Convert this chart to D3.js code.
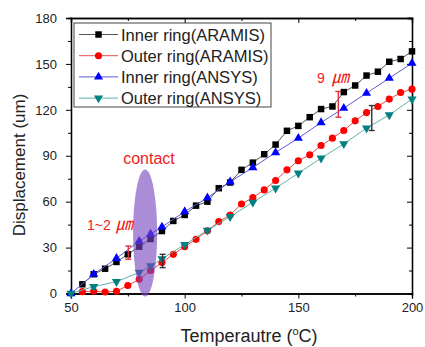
<!DOCTYPE html>
<html>
<head>
<meta charset="utf-8">
<script src="https://cdnjs.cloudflare.com/ajax/libs/d3/7.8.5/d3.min.js"></script>
<style>
  html, body { margin: 0; padding: 0; background: #fff; }
  svg { display: block; font-family: Arial, 'Liberation Sans', 'Noto Sans CJK KR', sans-serif; }
  .tick text { fill: #222; font-size: 13px; }
</style>
</head>
<body>
<script>
// temperatures (deg C)
const tempAramis = [55, 60, 65, 70, 75, 80, 85, 90, 95, 100, 105, 110, 115, 120, 125,
                    130, 135, 140, 145, 150, 155, 160, 165, 170, 175, 180, 185, 190, 195, 200];
const tempAnsys = [50, 60, 70, 80, 85, 90, 100, 110, 120, 130, 140, 150, 160, 170, 180, 190, 200];

// displacement (um)
const innerAramis = [6, 12.6, 16.2, 20.6, 25.6, 30.6, 35.6, 40.8, 47.4, 51.3, 57.4, 60, 68.8, 72.5, 80.8,
                     85.5, 91, 97.3, 106.3, 109.5, 115.2, 120.5, 122.2, 131.6, 135.9, 142.4, 144.9, 151.4, 153.2, 158.2];
const outerAramis = [1.2, 1.5, 1.0, 1.5, 5.2, 9.3, 15, 20.2, 25.6, 30.6, 35.4, 41, 47, 51.3, 58.5,
                     62.7, 67.7, 73.8, 80.8, 86.7, 90.6, 96.7, 101.5, 106.5, 112.8, 118.2, 122.2, 127, 131.3, 133.5];
const innerAnsys = [0, 12.6, 23, 34.2, 38.8, 43.5, 53.5, 62.5, 73, 82.3, 92.1, 101.5, 111.7, 121.1, 130.9, 140.7, 150.5];
const outerAnsys = [0, 4.5, 7.7, 13.8, 18, 22.6, 32, 41.3, 50.2, 59.6, 68.8, 78.6, 88.4, 97.8, 108, 116.7, 127];

const seriesNames = ['Inner ring(ARAMIS)', 'Outer ring(ARAMIS)', 'Inner ring(ANSYS)', 'Outer ring(ANSYS)'];

const xTicks = [50, 100, 150, 200],
      xMinor = [75, 125, 175],
      yTicks = [0, 30, 60, 90, 120, 150, 180],
      yMinor = [15, 45, 75, 105, 135, 165];

// error bars: [temperature, low, high]
const errBars = [[75.2, 22.4, 31], [90.3, 16.9, 25.6], [167.6, 115.2, 132], [182.3, 106.5, 122.8]];

const width = 425,
      height = 347,
      plot = { left: 71, right: 412, top: 18, bottom: 293.5 };

const x = d3.scaleLinear().domain([50, 200]).range([plot.left, plot.right]),
      y = d3.scaleLinear().domain([0, 180]).range([plot.bottom, plot.top]);

const series = [
  { name: seriesNames[0], t: tempAramis, v: innerAramis, marker: '#000', line: '#555', shape: d3.symbolSquare, size: 42, rot: 0 },
  { name: seriesNames[1], t: tempAramis, v: outerAramis, marker: '#ff0000', line: '#e84a4a', shape: d3.symbolCircle, size: 40, rot: 0 },
  { name: seriesNames[2], t: tempAnsys, v: innerAnsys, marker: '#0000ff', line: '#5a5ad6', shape: d3.symbolTriangle, size: 36, rot: 0 },
  { name: seriesNames[3], t: tempAnsys, v: outerAnsys, marker: '#008080', line: '#5fb3aa', shape: d3.symbolTriangle, size: 36, rot: 180 }
];

const svg = d3.select('body').append('svg')
              .attr('width', width)
              .attr('height', height);

// axes
svg.append('g')
   .attr('transform', 'translate(0,' + plot.bottom + ')')
   .call(d3.axisBottom(x).tickValues(xTicks).tickSize(5).tickPadding(4));
svg.append('g')
   .attr('transform', 'translate(0,' + plot.bottom + ')')
   .call(d3.axisBottom(x).tickValues(xMinor).tickSize(3).tickFormat(''));
svg.append('g')
   .attr('transform', 'translate(' + plot.left + ',0)')
   .call(d3.axisLeft(y).tickValues(yTicks).tickSize(5).tickPadding(9));
svg.append('g')
   .attr('transform', 'translate(' + plot.left + ',0)')
   .call(d3.axisLeft(y).tickValues(yMinor).tickSize(3).tickFormat(''));
svg.append('g')
   .attr('transform', 'translate(0,' + plot.top + ')')
   .call(d3.axisTop(x).tickValues(xTicks.slice(1, 3)).tickSize(-5).tickFormat(''));
svg.append('g')
   .attr('transform', 'translate(0,' + plot.top + ')')
   .call(d3.axisTop(x).tickValues(xMinor).tickSize(-3).tickFormat(''));
svg.append('g')
   .attr('transform', 'translate(' + plot.right + ',0)')
   .call(d3.axisRight(y).tickValues(yTicks.slice(1, 6)).tickSize(-5).tickFormat(''));
svg.append('g')
   .attr('transform', 'translate(' + plot.right + ',0)')
   .call(d3.axisRight(y).tickValues(yMinor).tickSize(-3).tickFormat(''));

svg.selectAll('.domain').attr('stroke', '#000').attr('stroke-width', 1.3);
svg.selectAll('.tick line').attr('stroke', '#000');

// axis titles
svg.append('text')
   .attr('x', 249)
   .attr('y', 342)
   .attr('text-anchor', 'middle')
   .style('font-size', '18px')
   .style('fill', '#222')
   .html('Temperautre (<tspan dy="-7" font-size="11px">o</tspan><tspan dy="7">C)</tspan>');

svg.append('text')
   .attr('transform', 'translate(25,' + 165 + ') rotate(-90)')
   .attr('text-anchor', 'middle')
   .style('font-size', '17px')
   .style('fill', '#222')
   .text('Displacement (um)');

// lines and markers
const line = d3.line()
               .x(function(d) { return x(d[0]) })
               .y(function(d) { return y(d[1]) });

series.forEach(function(s) {
  const pts = s.t.map(function(t, i) { return [t, s.v[i]] });
  svg.append('path')
     .datum(pts)
     .attr('fill', 'none')
     .attr('stroke', s.line)
     .attr('stroke-width', 1)
     .attr('d', line);
  svg.append('g')
     .selectAll('path')
     .data(pts)
     .enter()
     .append('path')
     .attr('transform', function(d) { return 'translate(' + x(d[0]) + ',' + y(d[1]) + ') rotate(' + s.rot + ')' })
     .attr('d', d3.symbol().type(s.shape).size(s.size))
     .attr('fill', s.marker);
});

// error bars
const errColors = ['#e0303a', '#333', '#e0303a', '#333'];
errBars.forEach(function(e, i) {
  const g = svg.append('g').attr('stroke', errColors[i]).attr('stroke-width', 1.4);
  g.append('line').attr('x1', x(e[0])).attr('x2', x(e[0])).attr('y1', y(e[1])).attr('y2', y(e[2]));
  g.append('line').attr('x1', x(e[0]) - 3).attr('x2', x(e[0]) + 3).attr('y1', y(e[1])).attr('y2', y(e[1]));
  g.append('line').attr('x1', x(e[0]) - 3).attr('x2', x(e[0]) + 3).attr('y1', y(e[2])).attr('y2', y(e[2]));
});

// contact ellipse
svg.append('ellipse')
   .attr('cx', x(82.6))
   .attr('cy', y(39.5))
   .attr('rx', x(82.6 + 5.3) - x(82.6))
   .attr('ry', y(0) - y(41.5))
   .attr('fill', 'rgb(120,70,190)')
   .attr('fill-opacity', 0.62);

svg.append('text')
   .attr('x', 149)
   .attr('y', 164)
   .attr('text-anchor', 'middle')
   .style('font-size', '16px')
   .style('fill', '#f02020')
   .text('contact');

svg.append('text')
   .attr('x', 87)
   .attr('y', 230)
   .style('font-size', '14px')
   .style('fill', '#f02020')
   .html('1~2<tspan dx="5" font-size="17px" font-style="italic">\u339B</tspan>');

svg.append('text')
   .attr('x', 317)
   .attr('y', 83)
   .style('font-size', '14px')
   .style('fill', '#f02020')
   .html('9<tspan dx="7" font-size="17px" font-style="italic">\u339B</tspan>');

// legend
const legend = svg.append('g');
legend.append('rect')
      .attr('x', 74)
      .attr('y', 23)
      .attr('width', 197)
      .attr('height', 84)
      .attr('fill', '#fff')
      .attr('stroke', '#444')
      .attr('stroke-width', 1);

const entry = legend.selectAll('g.entry')
                    .data(series)
                    .enter()
                    .append('g')
                    .attr('class', 'entry')
                    .attr('transform', function(d, i) { return 'translate(0,' + (34.5 + i * 21.2) + ')' });
entry.append('line')
     .attr('x1', 79).attr('x2', 118)
     .attr('stroke', function(d) { return d.line });
entry.append('path')
     .attr('transform', function(d) { return 'translate(98.5,0) rotate(' + d.rot + ')' })
     .attr('d', function(d) { return d3.symbol().type(d.shape).size(d.size)() })
     .attr('fill', function(d) { return d.marker });
entry.append('text')
     .attr('x', 121)
     .attr('y', 6)
     .style('font-size', '16.5px')
     .style('fill', '#222')
     .text(function(d) { return d.name });
</script>
</body>
</html>
